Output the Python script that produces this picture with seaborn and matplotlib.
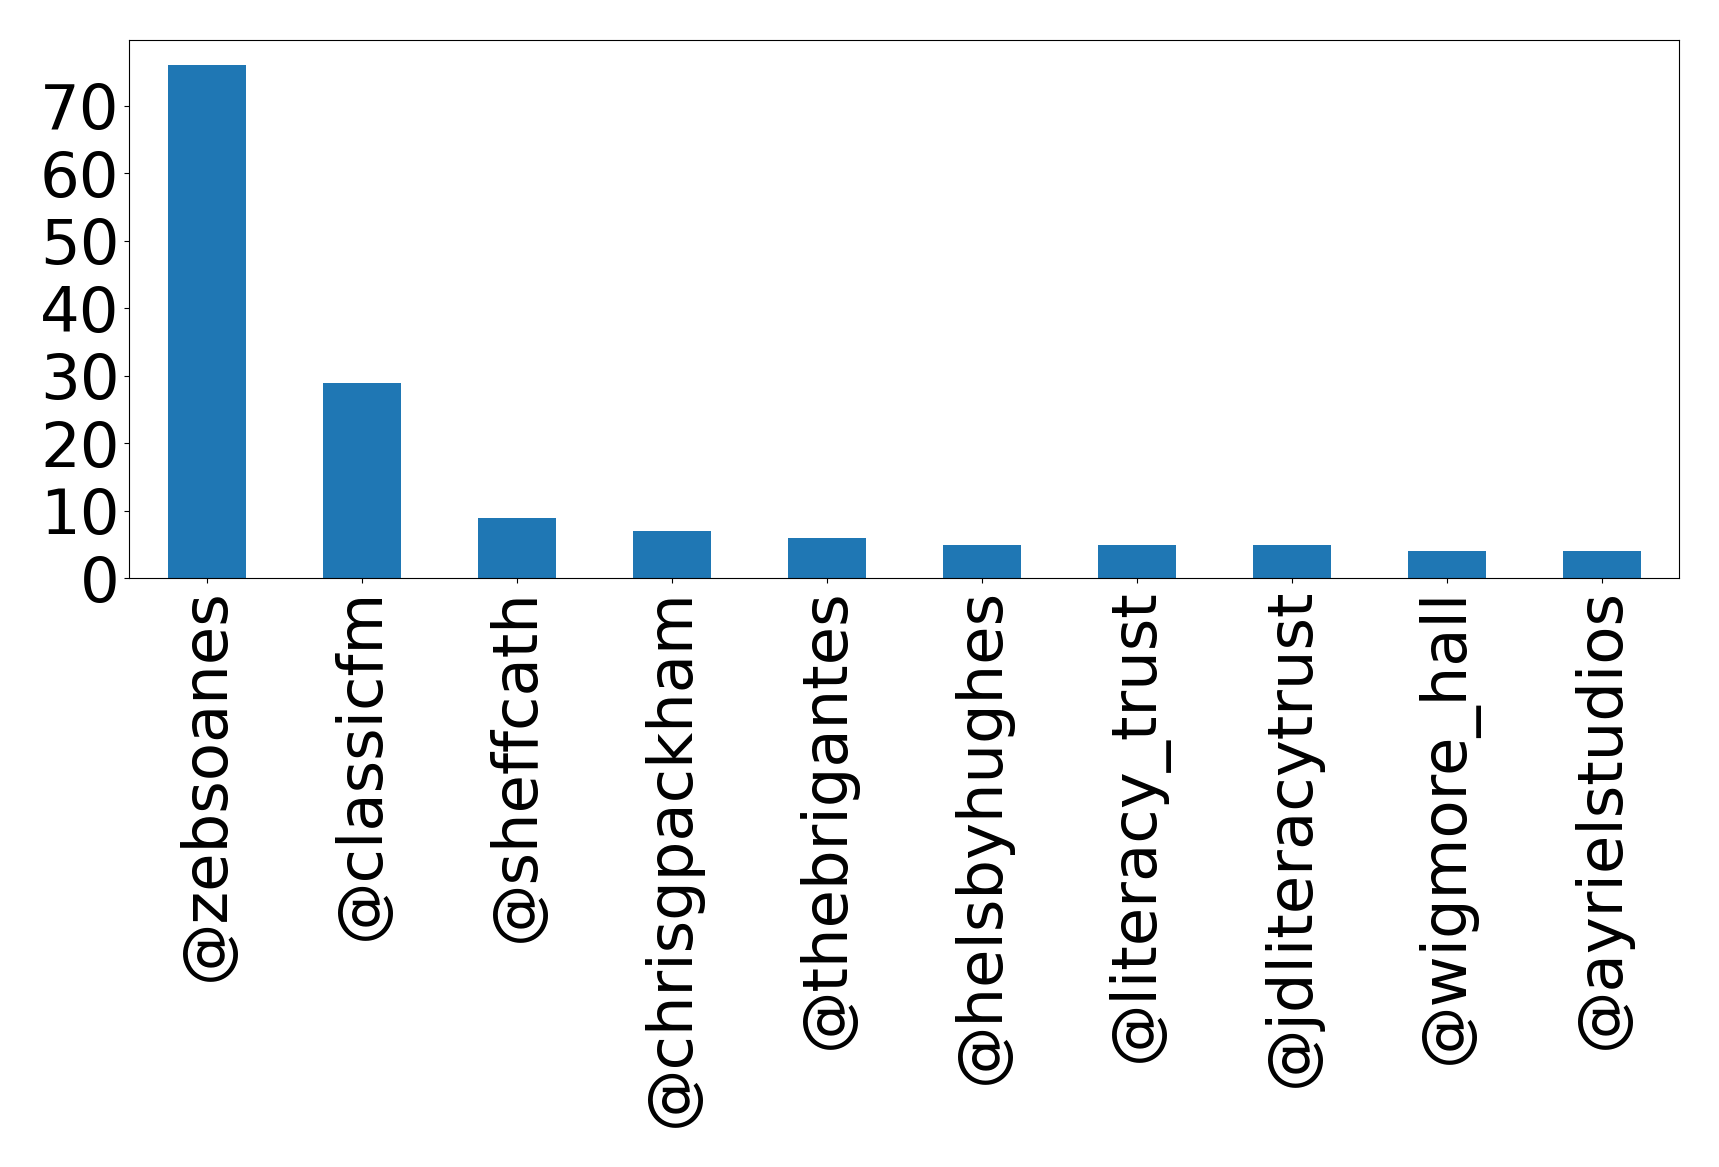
import matplotlib
matplotlib.use("Agg")
import matplotlib.pyplot as plt
import seaborn as sns
import pandas as pd

handles = ["@zebsoanes", "@classicfm", "@sheffcath", "@chrisgpackham", "@thebrigantes",
           "@helsbyhughes", "@literacy_trust", "@jdliteracytrust", "@wigmore_hall", "@ayrielstudios"]
counts = [76, 29, 9, 7, 6, 5, 5, 5, 4, 4]
yticks = [0, 10, 20, 30, 40, 50, 60, 70]

df = pd.DataFrame({"handle": handles, "count": counts})

fig = plt.figure(figsize=(17.19, 11.67), dpi=100)
ax = fig.add_axes([0.0752, 0.5045, 0.977 - 0.0752, 0.966 - 0.5045])
sns.barplot(data=df, x="handle", y="count", ax=ax, color="#1f77b4", saturation=1, width=0.5)
ax.set_xlim(-0.5, len(handles) - 0.5)
ax.set_ylim(0, 76 * 1.05)
ax.set_yticks(yticks)
ax.set_xlabel("")
ax.set_ylabel("")
ax.tick_params(axis="both", labelsize=45)
plt.setp(ax.get_xticklabels(), rotation=90)
fig.savefig("out.png", dpi=100)
